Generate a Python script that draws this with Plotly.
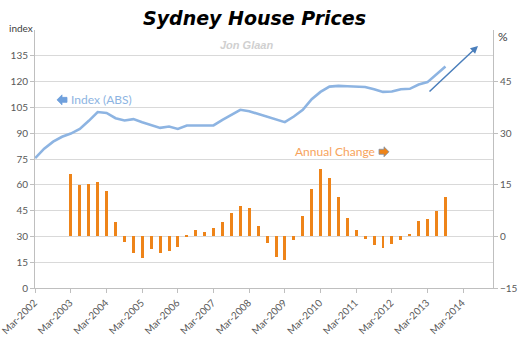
import pandas as pd
import plotly.graph_objects as go

# ---- data ----
quarters = pd.date_range("2002-03-01", periods=47, freq="3MS")
index_abs = [75.5, 81, 85.1, 87.9, 89.8, 92.5, 97.2, 102.3, 101.8, 98.7, 97.4, 98.2,
             96.4, 94.8, 93.1, 93.9, 92.5, 94.5, 94.5, 94.8, 94.5, 97.8, 100.9, 103.6,
             102.8, 101.2, 99.8, 98.1, 96.4, 99.7, 103.6, 109.8, 114, 117.1, 117.5, 117.3,
             117, 116.9, 115.6, 114, 114.2, 115.6, 115.8, 118.3, 119.7, 124, 128.8]
change_quarters = quarters[4:]
annual_change = [18.1, 14.8, 15.3, 15.7, 13.2, 4.1, -1.5, -4.9, -6.4,
                 -3.7, -4.7, -4.2, -3.2, 0.3,
                 1.9, 1.4, 2.4, 4.3, 6.8, 8.7, 8.2,
                 2.9, -2.0, -5.9, -6.9, -1.0,
                 6.0, 13.8, 19.6, 16.9, 11.6, 5.3, 1.9,
                 -0.8, -2.5, -3.5, -2.3, -1.0,
                 0.7, 4.6, 5.0, 7.4, 11.6]
left_ticks = [0, 15, 30, 45, 60, 75, 90, 105, 120, 135]
right_ticks = [-15, 0, 15, 30, 45]

W, H = 527, 359
L, T = 35, 30
R = W - 493
B = H - 288.5
PW, PH = W - L - R, H - T - B

def px(x):
    return (x - L) / PW

def py(y):
    return (H - B - y) / PH

TICK = "#595959"
AX = "#bfbfbf"
GRID = "#d9d9d9"
LINE_C = "#8db4e2"
BAR_C = "#ee8419"
TF = dict(family="Lato, Open Sans, sans-serif", size=10, color=TICK)

fig = go.Figure()
fig.add_trace(go.Bar(x=change_quarters, y=annual_change, yaxis="y2",
                     marker=dict(color=BAR_C, line=dict(width=0)),
                     width=30 * 86400000, showlegend=False))
fig.add_trace(go.Scatter(x=quarters, y=index_abs, mode="lines",
                         line=dict(color=LINE_C, width=2.6), showlegend=False))

fig.update_layout(
    width=W, height=H,
    margin=dict(l=L, r=R, t=T, b=B, autoexpand=False),
    paper_bgcolor="white", plot_bgcolor="white",
    font=dict(family="Lato, Open Sans, sans-serif", size=10, color=TICK),
    xaxis=dict(type="date", range=["2002-02-27", "2015-01-01"],
               tick0="2002-03-01", dtick="M12", tickformat="%b-%Y",
               tickangle=-45, ticks="outside", ticklen=4, tickcolor=AX,
               showline=True, linecolor=AX, linewidth=1, showgrid=False,
               zeroline=False, tickfont=TF, automargin=False,
               ticklabeloverflow="allow", ticklabelshift=-1),
    yaxis=dict(range=[0, 150], tickvals=left_ticks, ticks="outside", ticklen=4,
               tickcolor=AX, showline=True, linecolor=AX, linewidth=1,
               showgrid=True, gridcolor=GRID, gridwidth=1, zeroline=False,
               tickfont=TF, automargin=False),
    yaxis2=dict(range=[-15, 60], tickvals=right_ticks, overlaying="y", side="right",
                ticks="outside", ticklen=4, tickcolor=AX, showline=True,
                linecolor=AX, linewidth=1, showgrid=False, zeroline=False,
                tickfont=TF, automargin=False, ticklabeloverflow="allow"),
    bargap=0,
)

ann = []
ann.append(dict(text="<b><i>Sydney House Prices</i></b>", xref="paper", yref="paper",
                x=px(254), y=py(18), xanchor="center", yanchor="middle", showarrow=False,
                font=dict(family="DejaVu Sans", size=19, color="black")))
ann.append(dict(text="<b><i>Jon Glaan</i></b>", xref="paper", yref="paper",
                x=px(246), y=py(45), xanchor="center", yanchor="middle", showarrow=False,
                font=dict(family="Liberation Sans", size=11, color="#d0d0d0")))
ann.append(dict(text="index", xref="paper", yref="paper", x=px(21), y=py(28),
                xanchor="center", yanchor="middle", showarrow=False,
                font=dict(family="Lato", size=10, color="#404040")))
ann.append(dict(text="%", xref="paper", yref="paper", x=px(503), y=py(37),
                xanchor="center", yanchor="middle", showarrow=False,
                font=dict(family="Lato", size=12, color="#404040")))
ann.append(dict(text="Index (ABS)", xref="paper", yref="paper", x=px(69), y=py(100),
                xanchor="left", yanchor="middle", showarrow=False,
                font=dict(family="Lato", size=12, color=LINE_C)))
ann.append(dict(text="Annual Change", xref="paper", yref="paper", x=px(293), y=py(152),
                xanchor="left", yanchor="middle", showarrow=False,
                font=dict(family="Lato", size=12, color="#f7a35c")))
ann.append(dict(text="", xref="paper", yref="paper", x=px(478), y=py(46),
                ax=-50, ay=47, showarrow=True, arrowhead=2, arrowsize=1,
                arrowwidth=1.5, arrowcolor="#4a7ebb"))
fig.update_layout(annotations=ann)

def block_arrow(x0, y0, direction, color, outline):
    # small block arrow icon; x0 = tip x in page pixels, y0 = centre y
    s = direction
    pts = [(x0, y0), (x0 + s * 5, y0 - 5), (x0 + s * 5, y0 - 2.5),
           (x0 + s * 10, y0 - 2.5), (x0 + s * 10, y0 + 2.5),
           (x0 + s * 5, y0 + 2.5), (x0 + s * 5, y0 + 5)]
    path = "M " + " L ".join(f"{px(a):.5f},{py(b):.5f}" for a, b in pts) + " Z"
    return dict(type="path", xref="paper", yref="paper", path=path,
                fillcolor=color, line=dict(color=outline, width=0.8))

fig.update_layout(shapes=[block_arrow(57, 100, 1, "#6fa0dc", "#6fa0dc"),
                          block_arrow(389, 152, -1, "#ee8419", "#7f8fa6")])

fig.write_html("out.html", config={"displayModeBar": False},
               post_script="document.body.style.margin='0';document.body.style.overflow='hidden';")
